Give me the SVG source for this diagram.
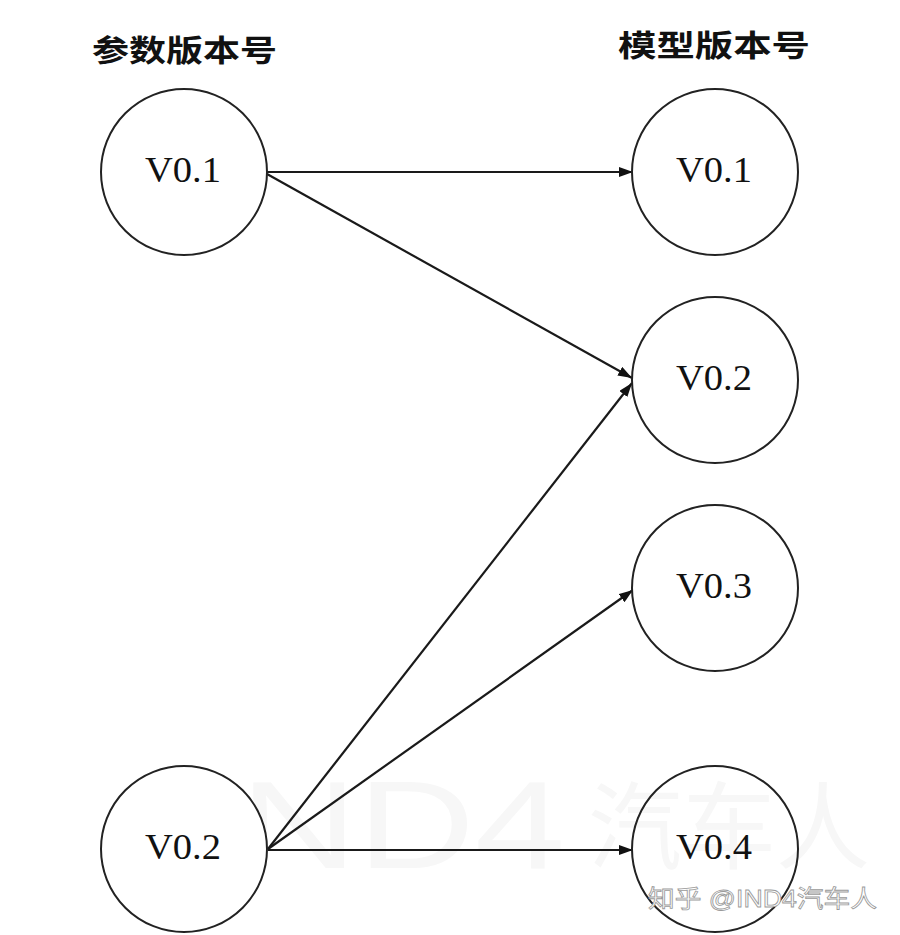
<svg xmlns="http://www.w3.org/2000/svg" width="900" height="935" viewBox="0 0 900 935">
<style>
.node circle{fill:#fff;stroke:#222;stroke-width:2}
.lbl{font-family:"Liberation Serif","DejaVu Serif",serif;font-size:36px;fill:#111;text-anchor:middle}
.hdr{font-family:"Noto Sans CJK SC","Noto Sans",sans-serif;font-weight:bold;font-size:30px;fill:#111}
.edge{stroke:#1a1a1a;stroke-width:2.2;fill:none;marker-end:url(#arr)}
.wm{font-family:"Liberation Sans","Noto Sans CJK SC",sans-serif;fill:#f7f7f7}
.wm2{font-family:"Liberation Sans","Noto Sans CJK SC",sans-serif;font-size:24px;fill:#fff;stroke:#9a9a9a;stroke-width:0.8}
</style>
<defs>
<marker id="arr" markerUnits="userSpaceOnUse" markerWidth="16" markerHeight="12" refX="14" refY="5" orient="auto">
<path d="M0,0 L14,5 L0,10 z" fill="#111"/>
</marker>
</defs>
<rect width="900" height="935" fill="#fff"/>
<g id="watermark-large">
<text class="wm" x="195" y="868" font-size="125" textLength="370" lengthAdjust="spacingAndGlyphs">IND4</text>
<text class="wm" x="588" y="862" font-size="95" textLength="282" lengthAdjust="spacingAndGlyphs">汽车人</text>
</g>
<g id="headers">
<text id="hdr-param" class="hdr" x="92" y="61" textLength="185" lengthAdjust="spacingAndGlyphs">参数版本号</text>
<text id="hdr-model" class="hdr" x="618" y="56" font-size="32" textLength="192" lengthAdjust="spacingAndGlyphs">模型版本号</text>
</g>
<g id="connectors">
<line class="edge" x1="266" y1="172" x2="633" y2="172"/>
<line class="edge" x1="267" y1="174" x2="632" y2="378"/>
<line class="edge" x1="268" y1="849" x2="632" y2="383"/>
<line class="edge" x1="268" y1="849" x2="633" y2="590"/>
<line class="edge" x1="268" y1="850" x2="633" y2="850"/>
</g>
<g id="p-v01" class="node"><circle cx="184" cy="172" r="83"/><text class="lbl" x="183" y="182" textLength="76" lengthAdjust="spacingAndGlyphs">V0.1</text></g>
<g id="p-v02" class="node"><circle cx="184" cy="849" r="83"/><text class="lbl" x="183" y="859" textLength="76" lengthAdjust="spacingAndGlyphs">V0.2</text></g>
<g id="m-v01" class="node"><circle cx="715" cy="172" r="83"/><text class="lbl" x="714" y="182" textLength="76" lengthAdjust="spacingAndGlyphs">V0.1</text></g>
<g id="m-v02" class="node"><circle cx="715" cy="380" r="83"/><text class="lbl" x="714" y="390" textLength="76" lengthAdjust="spacingAndGlyphs">V0.2</text></g>
<g id="m-v03" class="node"><circle cx="715" cy="588" r="83"/><text class="lbl" x="714" y="598" textLength="76" lengthAdjust="spacingAndGlyphs">V0.3</text></g>
<g id="m-v04" class="node"><circle cx="715" cy="849" r="83" fill-opacity="0"/><text class="lbl" x="714" y="859" textLength="76" lengthAdjust="spacingAndGlyphs">V0.4</text></g>
<g id="watermark-small">
<text class="wm2" x="648" y="907" textLength="229" lengthAdjust="spacingAndGlyphs">知乎 @IND4汽车人</text>
</g>
</svg>
